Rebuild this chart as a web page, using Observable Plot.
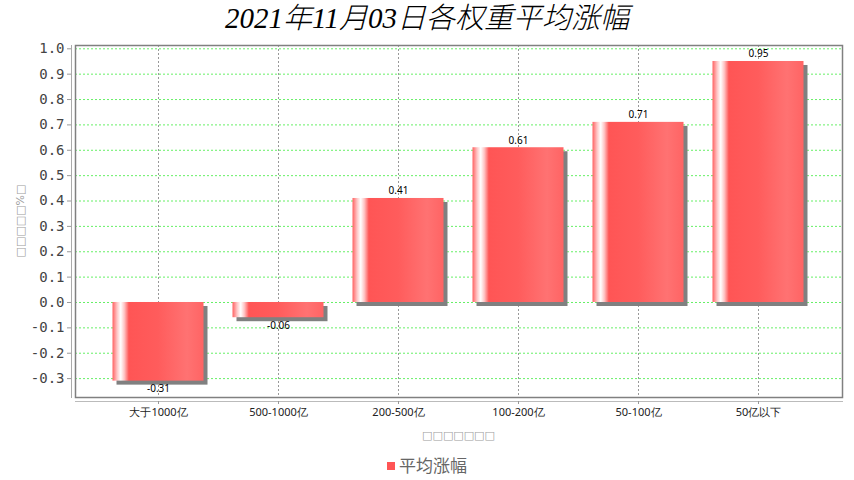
<!DOCTYPE html>
<html>
<head>
<meta charset="utf-8">
<script src="https://cdn.jsdelivr.net/npm/d3@7"></script>
<script src="https://cdn.jsdelivr.net/npm/@observablehq/plot@0.6"></script>
<style>
  html, body { margin: 0; padding: 0; background: #fff; }
  #wrap { position: relative; width: 854px; height: 480px; overflow: hidden; }
  #title { position: absolute; left: 0; top: 0; width: 854px; text-align: center;
    font-family: "Liberation Serif", "Noto Sans CJK SC", serif; font-style: italic;
    font-size: 29px; line-height: 36px; color: #000; font-weight: 300; }
  #xlabel { position: absolute; left: 75px; width: 767px; top: 429px; text-align: center;
    font-family: "DejaVu Sans", sans-serif; font-size: 11px; color: #a0a0a0; }
  #ylabel { position: absolute; left: 14px; top: 221px; transform-origin: 0 0;
    transform: rotate(-90deg) translate(-50%, 0); white-space: nowrap;
    font-family: "DejaVu Sans", sans-serif; font-size: 11px; color: #a0a0a0; }
  #legend { position: absolute; left: 0; width: 854px; top: 454px; text-align: center;
    font-family: "Noto Sans CJK SC", sans-serif; font-size: 17px; color: #666; line-height: 22px; }
  #legend .sw { display: inline-block; width: 8px; height: 8px; background: #ff5555; margin-right: 4px; vertical-align: 2px; }
  #chart { position: absolute; left: 0; top: 0; }
</style>
</head>
<body>
<div id="wrap">
  <div id="chart"></div>
  <div id="title"></div>
  <div id="ylabel"></div>
  <div id="xlabel"></div>
  <div id="legend"></div>
</div>
<script>
const titleText = "2021年11月03日各权重平均涨幅";
const categories = ["大于1000亿", "500-1000亿", "200-500亿", "100-200亿", "50-100亿", "50亿以下"];
const values = [-0.31, -0.06, 0.41, 0.61, 0.71, 0.95];
const yTicks = [-0.3, -0.2, -0.1, 0.0, 0.1, 0.2, 0.3, 0.4, 0.5, 0.6, 0.7, 0.8, 0.9, 1.0];
const seriesName = "平均涨幅";
const yLabel = "□□□□□%□";
const xLabel = "□□□□□□□";

const data = categories.map((c, i) => ({category: c, value: values[i]}));

document.getElementById("title").textContent = titleText;
document.getElementById("ylabel").textContent = yLabel;
document.getElementById("xlabel").textContent = xLabel;
document.getElementById("legend").innerHTML = '<span class="sw"></span>' + seriesName;

const plot = Plot.plot({
  width: 854,
  height: 480,
  marginLeft: 75,
  marginRight: 12,
  marginTop: 45,
  marginBottom: 83,
  style: {background: "transparent", overflow: "visible"},
  x: {domain: categories, range: [98, 818], padding: 0, axis: null},
  y: {domain: [-0.3745, 1.013], axis: null},
  marks: [
    Plot.ruleY(yTicks, {stroke: "#66f066", strokeDasharray: "2,2", strokeWidth: 1}),
    Plot.ruleX(categories, {x: d => d, stroke: "#999", strokeDasharray: "2,2", strokeWidth: 1}),
    Plot.barY(data, {x: "category", y1: 0, y2: "value", fill: "#808080", insetLeft: 14.5, insetRight: 14.5, dx: 4, dy: 4}),
    Plot.barY(data, {x: "category", y1: 0, y2: "value", fill: "url(#barGrad)", insetLeft: 14.5, insetRight: 14.5}),
    Plot.text(data.filter(d => d.value >= 0), {x: "category", y: "value", text: d => d.value.toFixed(2), lineAnchor: "bottom", dy: -4, fontSize: 10, fill: "#000"}),
    Plot.text(data.filter(d => d.value < 0), {x: "category", y: "value", text: d => d.value.toFixed(2), lineAnchor: "top", dy: 4, fontSize: 10, fill: "#000"}),
    Plot.frame({stroke: "#808080", strokeWidth: 1.5}),
    Plot.frame({anchor: "left", dx: -4, stroke: "#aaa"}),
    Plot.frame({anchor: "bottom", dy: 4, stroke: "#bbb"}),
    Plot.axisY(yTicks, {anchor: "left", dx: -4, tickSize: 4, tickPadding: 3, tickFormat: d => d.toFixed(1), fontSize: 14, fontFamily: "DejaVu Sans Mono", fill: "#444", stroke: "#999", label: null}),
    Plot.axisX({anchor: "bottom", dy: 4, tickSize: 3, tickPadding: 4, fontSize: 11, fill: "#222", stroke: "#999", label: null})
  ]
});

const svg = d3.select(plot);
const defs = svg.insert("defs", ":first-child");
const grad = defs.append("linearGradient").attr("id", "barGrad").attr("x1", "0").attr("x2", "1").attr("y1", "0").attr("y2", "0");
[[0, "#ff6262"], [0.05, "#ffc4c4"], [0.09, "#ffffff"], [0.13, "#ffc4c4"], [0.18, "#ff5555"], [0.5, "#ff5c5c"], [0.82, "#ff7272"], [1, "#ff6464"]]
  .forEach(([o, c]) => grad.append("stop").attr("offset", o).attr("stop-color", c));

document.getElementById("chart").appendChild(plot);
</script>
</body>
</html>
